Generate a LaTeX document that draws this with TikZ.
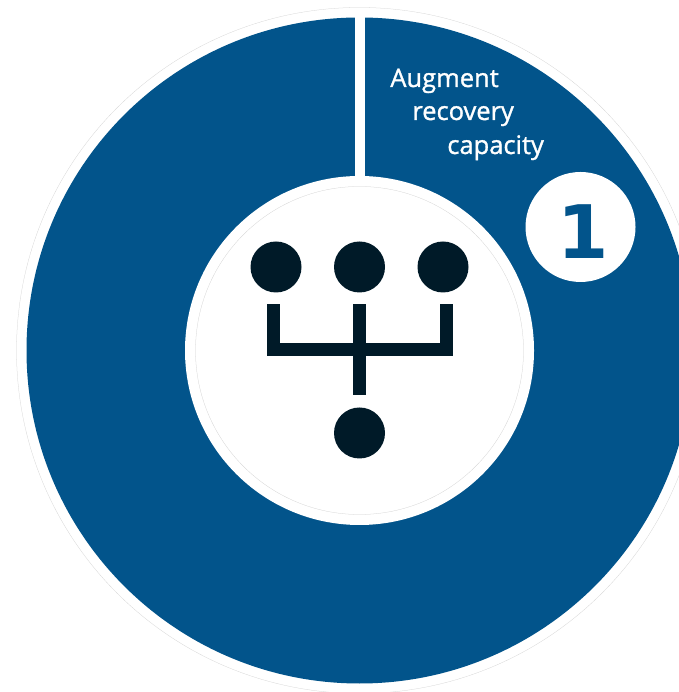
\documentclass[tikz,border=0pt]{standalone}
\usepackage{fontspec}
\usepackage{xcolor}
\usetikzlibrary{positioning}
\setsansfont{Open Sans}[FakeBold=1.2]
\newfontfamily\numfont{DejaVu Sans}[BoldFont={DejaVu Sans Bold}]
\definecolor{ringblue}{HTML}{02548B}
\definecolor{dotblack}{HTML}{001A28}

\tikzset{
    dot/.style={circle, fill=dotblack, inner sep=0, minimum size=1.02cm, outer sep=.24cm},
    linkbar/.style={draw=dotblack, line width=.26cm, line cap=butt, miter limit=10},
    faint/.style={draw=black!18, line width=.15pt},
    caption/.style={anchor=base west, text=white, inner sep=0, font=\sffamily\fontsize{14.5}{18}\selectfont}
}

\begin{document}
\begin{tikzpicture}
    \useasboundingbox (0, 0) rectangle (13.58, 13.84);
    \clip (0, 0) rectangle (13.58, 13.84);

    \draw[faint] (7.19, 6.83) circle (6.86);
    \node[circle, fill=ringblue, inner sep=0, minimum size=13.32cm] at (7.19, 6.83) (ring) {};
    \node[circle, fill=white, inner sep=0, minimum size=6.98cm] at (7.19, 6.83) (hub) {};
    \draw[faint] (7.19, 6.83) circle (3.28);
    \draw[white, line width=.2cm] (ring.north) to (hub.north);

    \node[dot] at (5.52, 8.5) (a) {};
    \node[dot] at (7.19, 8.5) (b) {};
    \node[dot] at (8.86, 8.5) (c) {};
    \node[dot] at (7.19, 5.18) (d) {};
    \coordinate (j) at (7.19, 6.85);

    \draw[linkbar] (b) to (d);
    \draw[linkbar] ([xshift=-.06cm]a.south) |- (j) -| ([xshift=.06cm]c.south);

    \node[caption] at (7.8, 12.1) (augment) {Augment};
    \node[caption] at (8.24, 11.44) (recovery) {recovery};
    \node[caption] at (8.94, 10.76) (capacity) {capacity};

    \node[circle, fill=white, inner sep=0, minimum size=2.2cm] at (11.61, 9.3) (badge) {};
    \node[text=ringblue, inner sep=0, font=\numfont\bfseries\fontsize{42}{44}\selectfont] at (11.66, 9.2) (one) {1};
\end{tikzpicture}
\end{document}
